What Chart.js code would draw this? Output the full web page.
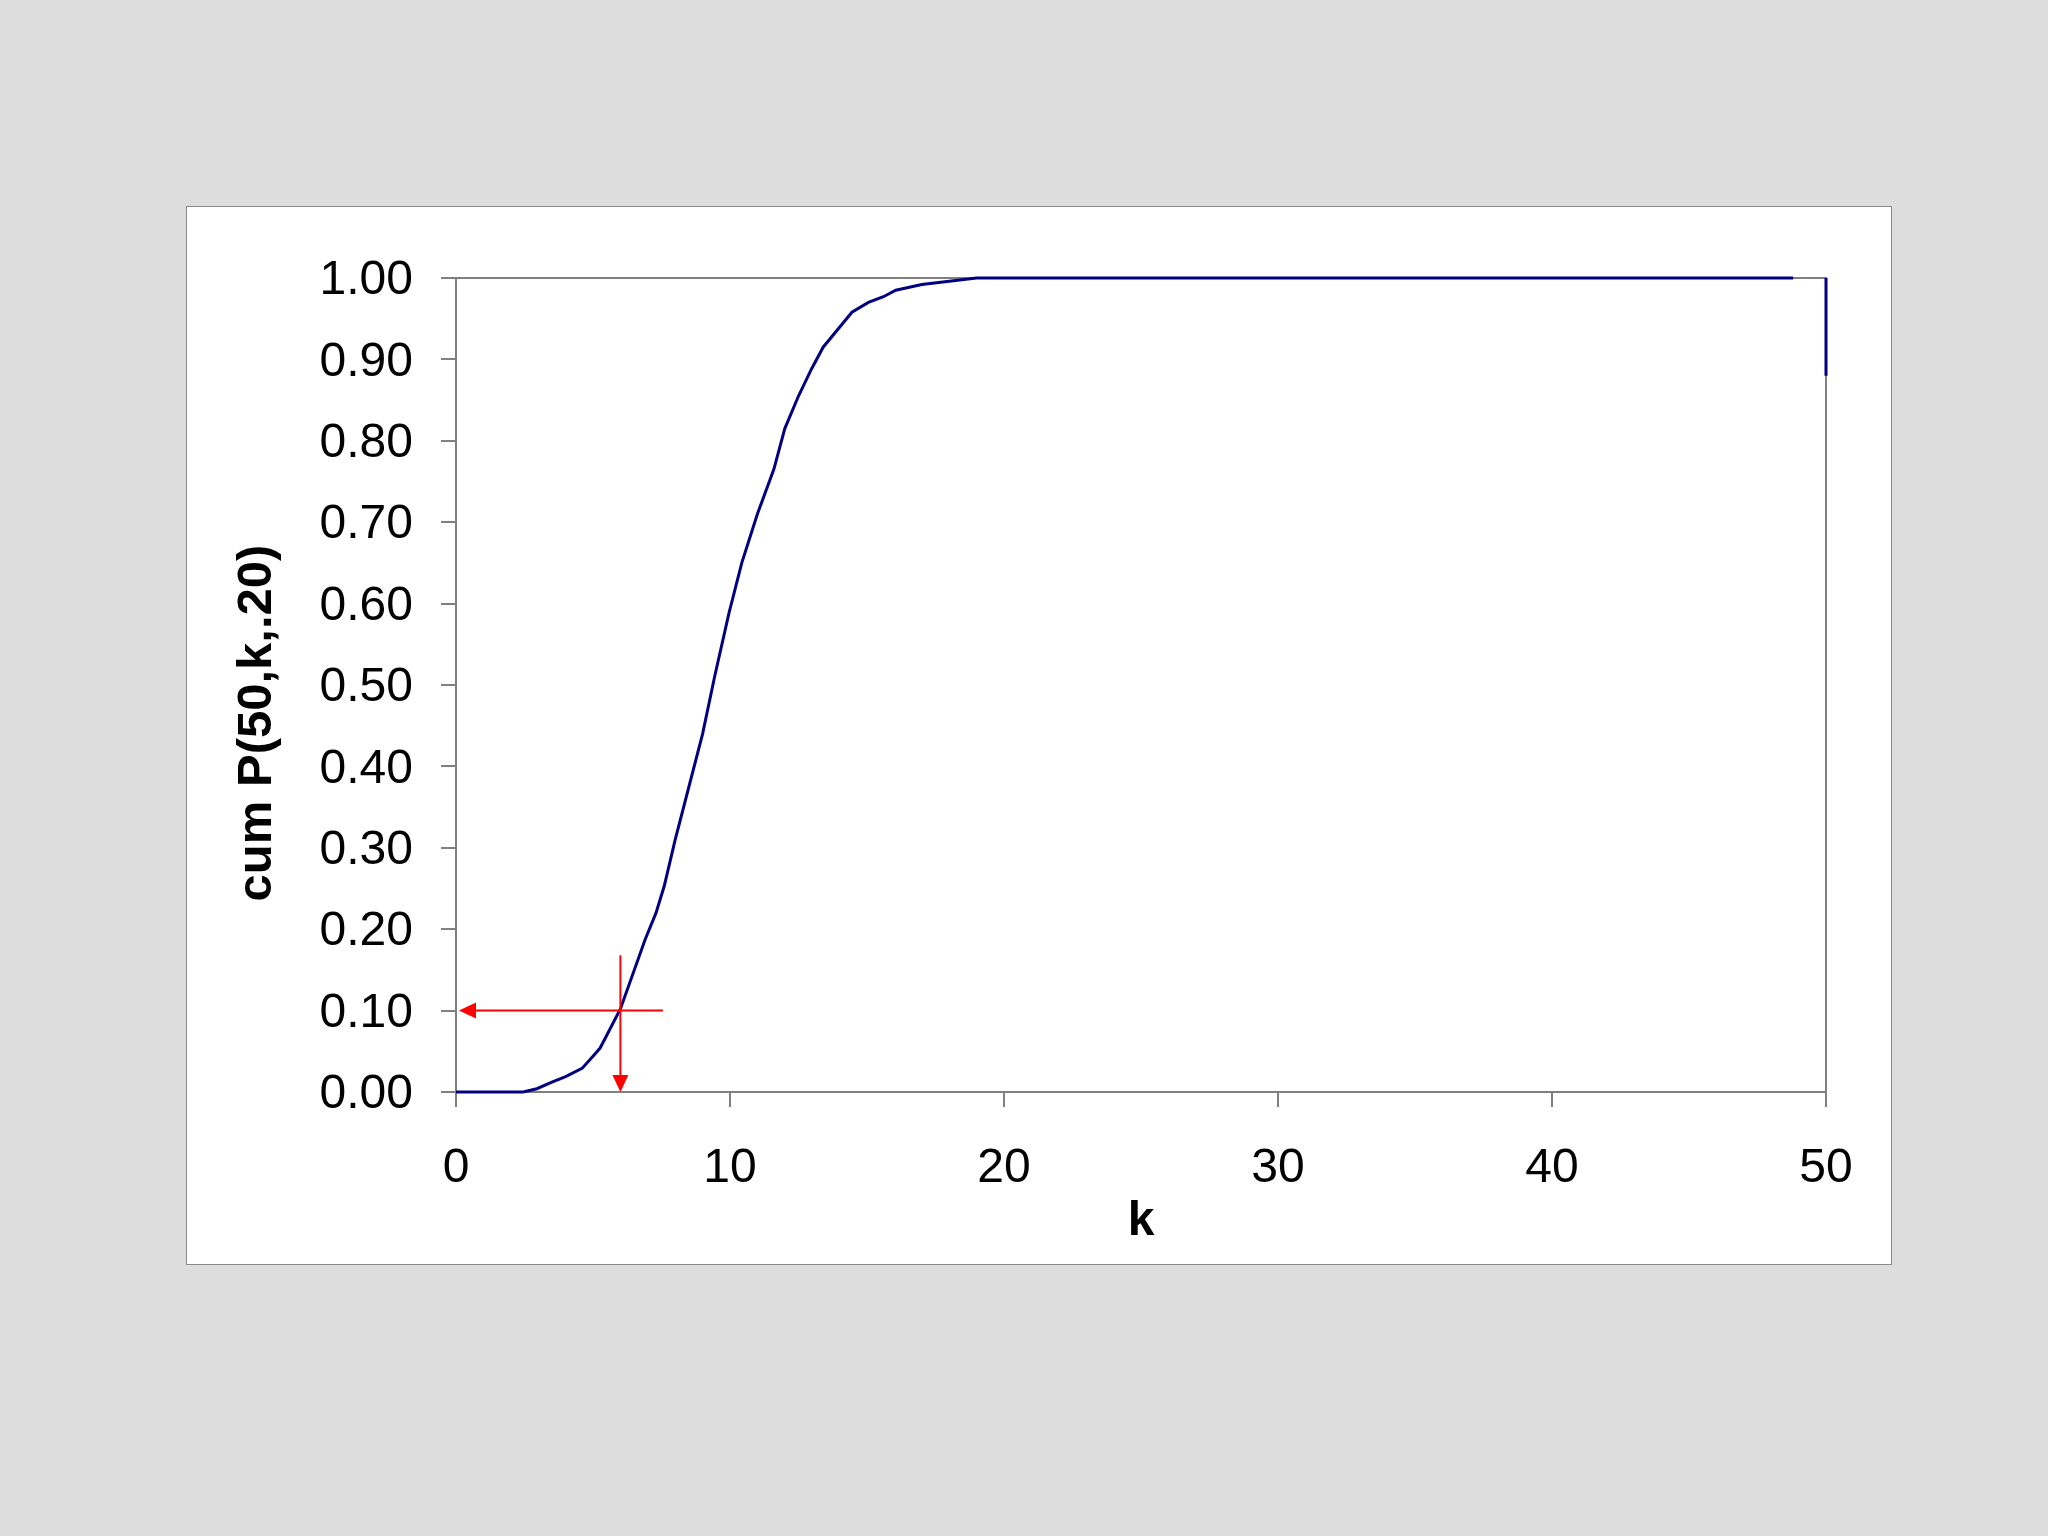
<!DOCTYPE html>
<html><head><meta charset="utf-8">
<script src="https://cdn.jsdelivr.net/npm/chart.js@4"></script>
<style>
html,body{margin:0;padding:0;background:#dddddd;width:2048px;height:1536px;overflow:hidden}
#box{position:absolute;left:186px;top:206px;width:1704px;height:1057px;background:#ffffff;border:1px solid #8a8a8a}
canvas{display:block}
</style></head><body>
<div id="box"><canvas id="c" width="1704" height="1057"></canvas></div>
<script>
// Curve vertices
const kValues = [0, 2.45, 2.95, 3.5, 4.0, 4.6, 5.0, 5.26, 6.0, 6.9, 7.3, 7.6, 8.0, 9.0, 9.45, 9.96, 10.43, 11.0, 11.6, 12.0, 12.5, 12.97, 13.4, 14.45, 15.05, 15.6, 16.05, 17.0, 19.0, 48.8, 49.4, 50.0, 50.0];
const cumP    = [0, 0, 0.004, 0.012, 0.019, 0.029, 0.044, 0.054, 0.102, 0.187, 0.22, 0.253, 0.31, 0.44, 0.512, 0.588, 0.65, 0.71, 0.765, 0.815, 0.855, 0.888, 0.915, 0.958, 0.970, 0.977, 0.985, 0.992, 1.0, 1.0, null, 1.0, 0.88];
const xTickValues = [0, 10, 20, 30, 40, 50];
const yTickValues = [0, 0.1, 0.2, 0.3, 0.4, 0.5, 0.6, 0.7, 0.8, 0.9, 1.0];
const xTitle = 'k';
const yTitle = 'cum P(50,k,.20)';
// Red reading arrows
const markerK = [6];
const markerP = [0.10];
const hArrowK = [7.55, 0.11];   // from, to (tip)
const vArrowP = [0.168, 0.0];   // from, to (tip)

const FONT = '"Liberation Sans", Arial, sans-serif';

const framePlugin = {
  id: 'frame',
  beforeDatasetsDraw(chart) {
    const { ctx, chartArea: a } = chart;
    ctx.save();
    ctx.strokeStyle = '#808080';
    ctx.lineWidth = 2;
    ctx.beginPath();
    ctx.moveTo(a.left, a.top);
    ctx.lineTo(a.right, a.top);
    ctx.lineTo(a.right, a.bottom);
    ctx.stroke();
    ctx.restore();
  }
};

const arrowPlugin = {
  id: 'arrows',
  afterDatasetsDraw(chart) {
    const ctx = chart.ctx, xs = chart.scales.x, ys = chart.scales.y;
    const px = xs.getPixelForValue(markerK[0]);
    const py = ys.getPixelForValue(markerP[0]);
    const hx0 = xs.getPixelForValue(hArrowK[0]);
    const hx1 = xs.getPixelForValue(hArrowK[1]);
    const vy0 = ys.getPixelForValue(vArrowP[0]);
    const vy1 = ys.getPixelForValue(vArrowP[1]);
    const headL = 17, headW = 8;
    ctx.save();
    ctx.strokeStyle = '#ff0000';
    ctx.fillStyle = '#ff0000';
    ctx.lineWidth = 2;
    ctx.beginPath();
    ctx.moveTo(hx0, py); ctx.lineTo(hx1 + headL, py);
    ctx.moveTo(px, vy0); ctx.lineTo(px, vy1 - headL);
    ctx.stroke();
    ctx.beginPath();
    ctx.moveTo(hx1, py); ctx.lineTo(hx1 + headL, py - headW); ctx.lineTo(hx1 + headL, py + headW); ctx.closePath();
    ctx.fill();
    ctx.beginPath();
    ctx.moveTo(px, vy1); ctx.lineTo(px - headW, vy1 - headL); ctx.lineTo(px + headW, vy1 - headL); ctx.closePath();
    ctx.fill();
    ctx.restore();
  }
};

const yTitlePlugin = {
  id: 'ytitle',
  afterDraw(chart) {
    const ctx = chart.ctx;
    ctx.save();
    ctx.translate(70, 516);
    ctx.rotate(-Math.PI / 2);
    ctx.font = 'bold 49px ' + FONT;
    ctx.fillStyle = '#000000';
    ctx.textAlign = 'center';
    ctx.textBaseline = 'middle';
    ctx.fillText(yTitle, 0, 0);
    ctx.restore();
  }
};

const points = kValues.map((k, i) => ({ x: k, y: cumP[i] }));

new Chart(document.getElementById('c'), {
  type: 'scatter',
  data: {
    datasets: [{
      data: points,
      showLine: true,
      borderColor: '#000080',
      backgroundColor: '#000080',
      borderWidth: 3,
      pointRadius: 0,
      tension: 0,
      fill: false,
      spanGaps: false,
      clip: false
    }]
  },
  options: {
    responsive: false,
    animation: false,
    layout: { padding: { top: 71, right: 65, left: 0, bottom: 0 } },
    plugins: { legend: { display: false }, tooltip: { enabled: false } },
    scales: {
      x: {
        type: 'linear', min: 0, max: 50,
        afterBuildTicks: s => { s.ticks = xTickValues.map(v => ({ value: v })); },
        afterFit: s => { s.height = 172; },
        ticks: { color: '#000', font: { family: FONT, size: 48 }, padding: 33, maxRotation: 0, callback: v => String(v) },
        grid: { drawOnChartArea: false, color: '#808080', lineWidth: 2, tickLength: 15 },
        border: { color: '#808080', width: 2 },
        title: { display: true, text: xTitle, color: '#000', font: { family: FONT, size: 48, weight: 'bold' }, padding: { top: 0, bottom: 13 } }
      },
      y: {
        type: 'linear', min: 0, max: 1,
        afterBuildTicks: s => { s.ticks = yTickValues.map(v => ({ value: v })); },
        afterFit: s => { s.width = 269; },
        ticks: { color: '#000', font: { family: FONT, size: 48 }, padding: 28, labelOffset: 3, callback: v => Number(v).toFixed(2) },
        grid: { drawOnChartArea: false, color: '#808080', lineWidth: 2, tickLength: 15 },
        border: { color: '#808080', width: 2 }
      }
    }
  },
  plugins: [framePlugin, arrowPlugin, yTitlePlugin]
});
</script>
</body></html>
